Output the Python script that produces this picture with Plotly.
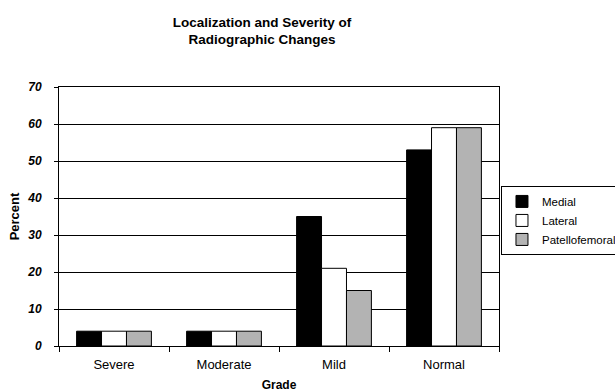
import plotly.graph_objects as go

categories = ["Severe", "Moderate", "Mild", "Normal"]
medial = [4, 4, 35, 53]
lateral = [4, 4, 21, 59]
patellofemoral = [4, 4, 15, 59]
y_ticks = [0, 10, 20, 30, 40, 50, 60, 70]

FONT = "Liberation Sans, Arial, sans-serif"
W, H = 615, 392

fig = go.Figure()
for name, vals, col in [("Medial", medial, "#000000"),
                        ("Lateral", lateral, "#ffffff"),
                        ("Patellofemoral", patellofemoral, "#b3b3b3")]:
    fig.add_trace(go.Bar(x=categories, y=vals, name=name,
                         marker=dict(color=col, line=dict(color="#000000", width=1))))

fig.update_layout(
    width=W, height=H,
    margin=dict(l=59, r=116, t=87, b=46, autoexpand=False),
    paper_bgcolor="white", plot_bgcolor="white",
    font=dict(family=FONT, color="black"),
    barmode="group", bargap=0.32, bargroupgap=0,
    title=dict(text="<b>Localization and Severity of<br>Radiographic Changes</b>",
               x=262 / W, xanchor="center", y=1 - 26.5 / H, yanchor="middle",
               font=dict(size=13.5, family=FONT, color="black")),
    legend=dict(x=1.0045, xanchor="left", y=0.618, yanchor="top",
                bordercolor="black", borderwidth=1, bgcolor="white",
                font=dict(size=11.5, family=FONT, color="black"),
                tracegroupgap=0, itemwidth=30),
    showlegend=True,
)
fig.update_xaxes(showline=True, linecolor="black", linewidth=1, mirror=True,
                 ticks="outside", tickson="boundaries", ticklen=5, tickcolor="black",
                 ticklabelstandoff=6,
                 tickfont=dict(size=13, family=FONT, color="black"),
                 title=dict(text="<b>Grade</b>", font=dict(size=12, family=FONT), standoff=10))
fig.update_yaxes(range=[0, 70], tickvals=y_ticks, showline=True, linecolor="black",
                 linewidth=1, mirror=True, showgrid=True, gridcolor="black", gridwidth=1,
                 ticks="outside", ticklen=4, tickcolor="black", zeroline=False,
                 ticklabelstandoff=10,
                 tickfont=dict(size=12, family=FONT, color="black", weight="bold", style="italic"),
                 title=dict(text="<b>Percent</b>", font=dict(size=13, family=FONT), standoff=4))

fig.write_html("out.html", config={"displayModeBar": False},
               post_script="document.body.style.margin='0';document.body.style.overflow='hidden';")
